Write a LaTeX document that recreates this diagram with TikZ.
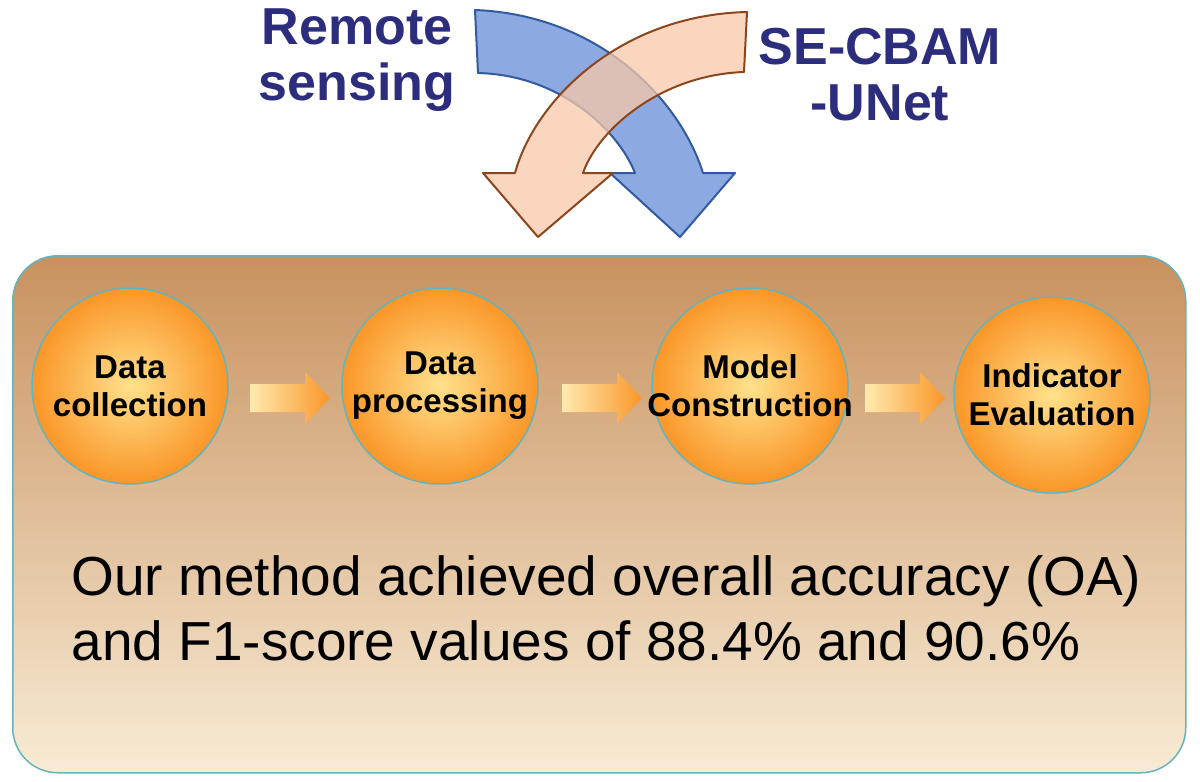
\documentclass[tikz,border=0pt]{standalone}
\usepackage{fontspec}
\setmainfont{Liberation Sans}
\definecolor{bfill}{RGB}{140,170,225}
\definecolor{bdraw}{RGB}{50,90,160}
\definecolor{ofill}{RGB}{248,200,170}
\definecolor{odraw}{RGB}{140,70,30}
\definecolor{teal1}{RGB}{100,180,190}
\definecolor{boxtop}{RGB}{200,145,95}
\definecolor{boxbot}{RGB}{248,235,212}
\definecolor{ttl}{RGB}{45,45,125}
\definecolor{cin}{RGB}{255,225,140}
\definecolor{cout}{RGB}{250,150,40}
\tikzset{
 stage/.style={circle,minimum size=196pt,draw=teal1,line width=1.5pt,inner sep=0pt,
   inner color=cin,outer color=cout},
 stagetext/.style={font=\bfseries\fontsize{33}{38}\selectfont,align=center,text=black,inner sep=0pt},
 flow/.style={draw=none,left color=cin!70!white,right color=cout},
 title/.style={font=\bfseries\fontsize{52}{56}\selectfont,text=ttl,align=center}
}
\newcommand\flowarrow[2]{\path[flow] (#1-40,#2-14) -- (#1+15,#2-14) -- (#1+15,#2-26) -- (#1+40,#2) -- (#1+15,#2+26) -- (#1+15,#2+14) -- (#1-40,#2+14) -- cycle;}
\begin{document}
\begin{tikzpicture}[x=1pt,y=-1pt]
\useasboundingbox (0,0) rectangle (1200,782);
\node[title] (rs) at (357,60) {Remote\\sensing};
\node[title] (se) at (880,75) {SE-CBAM\\-UNet};
% blue arrow
\draw[bdraw,line width=2pt,fill=bfill,line join=round] (475,10) .. controls (600,15) and (680,100) .. (703,173)
  -- (735,173) -- (680,237) -- (610,173) -- (635,173)
  .. controls (618,130) and (560,75) .. (478,73) -- cycle;
% orange arrow
\draw[odraw,line width=2pt,fill=ofill,fill opacity=0.75,line join=round] (747,12) .. controls (620,15) and (535,100) .. (515,173)
  -- (483,173) -- (538,237) -- (613,173) -- (583,173)
  .. controls (598,130) and (660,75) .. (744,72) -- cycle;
\node[draw=teal1,line width=1.5pt,rounded corners=45pt,top color=boxtop,bottom color=boxbot,
  minimum width=1173pt,minimum height=517pt,anchor=north west] (box) at (12,255) {};
\flowarrow{290}{398}
\flowarrow{602}{398}
\flowarrow{905}{398}
\node[stage] (c1) at (130,386) {};
\node[stage] (c2) at (440,386) {};
\node[stage] (c3) at (750,386) {};
\node[stage] (c4) at (1052,395) {};
\node[stagetext] (t1) at (c1) {Data\\collection};
\node[stagetext] (t2) at (c2) {Data\\processing};
\node[stagetext] (t3) at (c3) {Model\\Construction};
\node[stagetext] (t4) at (c4) {Indicator\\Evaluation};
\node[font=\fontsize{55}{65}\selectfont,align=left,anchor=west] (txt) at (68,608)
 {Our method achieved overall accuracy (OA)\\and F1-score values of 88.4\% and 90.6\%};
\end{tikzpicture}
\end{document}
